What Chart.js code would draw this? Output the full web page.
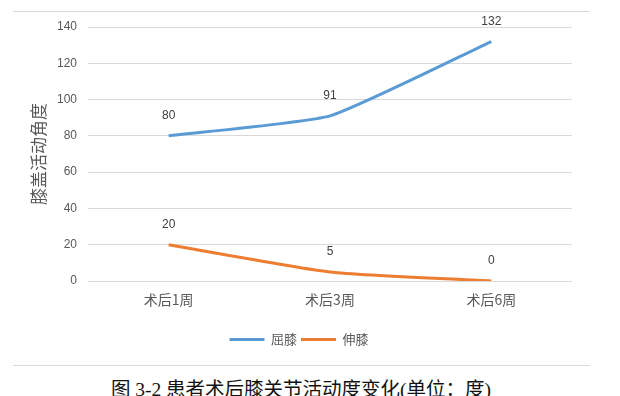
<!DOCTYPE html>
<html><head><meta charset="utf-8">
<script src="https://cdn.jsdelivr.net/npm/chart.js@4.4.1/dist/chart.umd.min.js"></script>
<style>
html,body{margin:0;padding:0;background:#fff;width:620px;height:396px;overflow:hidden;}
#wrap{position:absolute;left:0;top:0;width:620px;height:360px;}
.rule{position:absolute;left:13px;width:577px;height:1px;background:#d9d9d9;}
#cap{position:absolute;left:0;width:602px;top:380px;text-align:center;font-family:"Liberation Serif","DejaVu Serif","Noto Sans CJK SC",serif;font-size:19.5px;line-height:20px;color:#111;white-space:nowrap;}
</style></head><body>
<div class="rule" style="top:11px"></div>
<div id="wrap"><canvas id="c" width="620" height="360"></canvas></div>
<div class="rule" style="top:365px"></div>
<div id="cap">图 3-2 患者术后膝关节活动度变化(单位：度)</div>
<script>
const categories = ["术后1周", "术后3周", "术后6周"];
const flexion = [80, 91, 132];
const extension = [20, 5, 0];
const seriesNames = ["屈膝", "伸膝"];
const yTicks = [0, 20, 40, 60, 80, 100, 120, 140];
const yTitle = "膝盖活动角度";

const labelPlugin = {
  id: 'dl',
  afterDatasetsDraw(chart) {
    const ctx = chart.ctx;
    ctx.save();
    ctx.font = '12px "Liberation Sans", Arial, sans-serif';
    ctx.fillStyle = '#404040';
    ctx.textAlign = 'center';
    ctx.textBaseline = 'middle';
    chart.data.datasets.forEach((ds, i) => {
      chart.getDatasetMeta(i).data.forEach((pt, j) => {
        ctx.fillText(String(ds.data[j]), pt.x, pt.y - 20);
      });
    });
    ctx.restore();
  }
};

const tickFont = {family: '"Liberation Sans", Arial, "Noto Sans CJK SC", sans-serif', size: 12};
new Chart(document.getElementById('c'), {
  type: 'line',
  data: {
    labels: categories,
    datasets: [
      {label: seriesNames[0], data: flexion, borderColor: '#5B9BD5', backgroundColor: '#5B9BD5', borderWidth: 3, pointRadius: 0, tension: 0.15, fill: false},
      {label: seriesNames[1], data: extension, borderColor: '#ED7D31', backgroundColor: '#ED7D31', borderWidth: 3, pointRadius: 0, tension: 0.2, fill: false}
    ]
  },
  options: {
    responsive: false,
    animation: false,
    devicePixelRatio: 1,
    layout: {padding: {left: 26, right: 48, top: 27, bottom: 4}},
    plugins: {
      legend: {
        position: 'bottom',
        labels: {
          usePointStyle: true, pointStyle: 'line', pointStyleWidth: 35,
          font: {family: '"Noto Sans CJK SC", sans-serif', size: 13},
          color: '#595959', padding: 4
        }
      },
      tooltip: {enabled: false}
    },
    scales: {
      x: {
        offset: true,
        grid: {display: false, drawTicks: false},
        border: {display: false},
        ticks: {font: {family: '"Noto Sans CJK SC", sans-serif', size: 14}, color: '#595959', padding: 10},
        afterFit(s) { s.height = 48; }
      },
      y: {
        min: 0, max: 140,
        afterBuildTicks(s) { s.ticks = yTicks.map(v => ({value: v})); },
        grid: {color: '#d9d9d9', lineWidth: 1, drawTicks: false},
        border: {display: false},
        ticks: {font: tickFont, color: '#595959', padding: 11},
        title: {display: true, text: yTitle, font: {family: '"Noto Sans CJK SC", sans-serif', size: 17}, color: '#595959', padding: {top: 2, bottom: 0}},
        afterFit(s) { s.width = 62; }
      }
    }
  },
  plugins: [labelPlugin]
});
</script>
</body></html>
